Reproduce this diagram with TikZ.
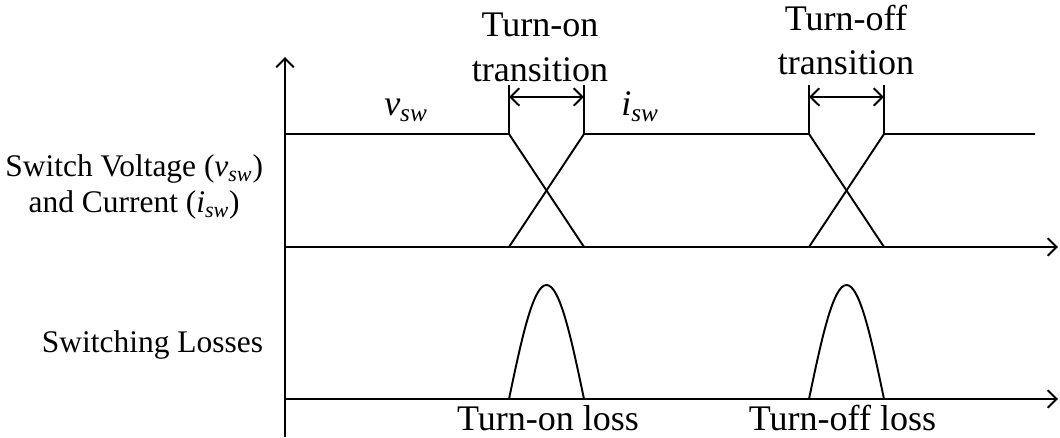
\documentclass[tikz,border=0pt]{standalone}
\usepackage{fontspec}
\setmainfont{Liberation Serif}
\usetikzlibrary{arrows.meta,calc,positioning}
\newcommand{\vsw}{\textit{v}\textsubscript{\textit{sw}}}
\newcommand{\isw}{\textit{i}\textsubscript{\textit{sw}}}
\tikzset{
  every node/.append style={font=\rmfamily},
  biglabel/.style={font=\fontsize{20.5}{25.6}\selectfont,inner sep=0pt},
  sidelabel/.style={font=\fontsize{17.9}{20.5}\selectfont,inner sep=0pt,align=center},
}

\begin{document}
\begin{tikzpicture}[line width=1.1pt,>={Straight Barb[length=1.8mm,width=3.5mm]}]
  \useasboundingbox (-5.70,-0.78) rectangle (15.50,7.98);
  % axes
  \coordinate (O) at (0,0);
  \coordinate (Ybot) at (0,-0.76);
  \coordinate (Ytop) at (0,6.84);
  \coordinate (M) at (0,3.04);
  \coordinate (Mend) at (15.46,3.04);
  \coordinate (Xend) at (15.46,0);
  \draw[->] (Ybot) -- (Ytop);
  \draw[->] (M) -- (Mend);
  \draw[->] (O) -- (Xend);
  % voltage and current
  \coordinate (H0) at (0,5.30);
  \coordinate (A1) at (4.48,5.30);  \coordinate (a1) at (4.48,3.04);
  \coordinate (B1) at (5.98,5.30);  \coordinate (b1) at (5.98,3.04);
  \coordinate (A2) at (10.48,5.30); \coordinate (a2) at (10.48,3.04);
  \coordinate (B2) at (11.98,5.30); \coordinate (b2) at (11.98,3.04);
  \coordinate (Hend) at (15.00,5.30);
  \draw (H0) -- (A1) -- (b1);
  \draw (a1) -- (B1) -- (A2) -- (b2);
  \draw (a2) -- (B2) -- (Hend);
  % transition spans
  \foreach \p/\q in {A1/B1,A2/B2}{
    \draw (\p) -- ++(0,0.98);
    \draw (\q) -- ++(0,0.98);
    \draw[<->] ($(\p)+(0,0.74)$) -- ($(\q)+(0,0.74)$);
  }
  % losses
  \coordinate (L1a) at (4.48,0);  \coordinate (L1p) at (5.23,2.28);  \coordinate (L1b) at (5.98,0);
  \coordinate (L2a) at (10.48,0); \coordinate (L2p) at (11.23,2.28); \coordinate (L2b) at (11.98,0);
  \draw (L1a) sin (L1p) cos (L1b);
  \draw (L2a) sin (L2p) cos (L2b);
  % labels
  \node[biglabel,align=center,anchor=base] (ontr) at (5.10,6.34) {Turn-on\\transition};
  \node[biglabel,align=center,anchor=base] (offtr) at (11.22,6.48) {Turn-off\\transition};
  \node[biglabel,anchor=base] (vlab) at (2.42,5.66) {\vsw};
  \node[biglabel,anchor=base] (ilab) at (7.10,5.66) {\isw};
  \node[biglabel,anchor=base] (onloss) at (5.26,-0.64) {Turn-on loss};
  \node[biglabel,anchor=base] (offloss) at (11.15,-0.64) {Turn-off loss};
  \node[sidelabel,anchor=base east] (vi) at (-0.42,3.72) {Switch Voltage (\vsw)\\and Current (\isw)};
  \node[sidelabel,anchor=base east] (loss) at (-0.42,0.92) {Switching Losses};
\end{tikzpicture}
\end{document}
